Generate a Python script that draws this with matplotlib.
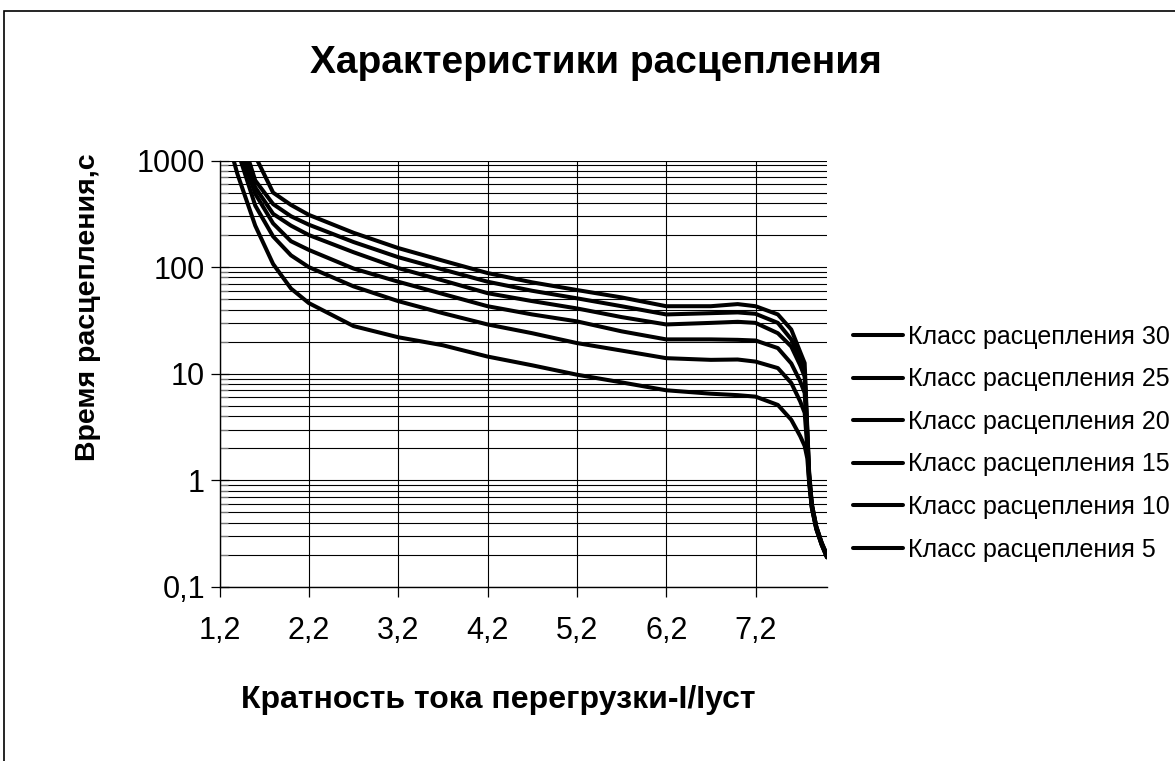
import matplotlib.pyplot as plt
from matplotlib.patches import Rectangle
from matplotlib.ticker import LogLocator, NullFormatter

plt.rcParams['font.family'] = ['Liberation Sans', 'DejaVu Sans']

# current multiple I/Iset
x = [1.2, 1.4, 1.6, 1.8, 2.0, 2.2, 2.7, 3.2, 3.7, 4.2, 4.7, 5.2, 5.7, 6.2, 6.7,
     7.0, 7.2, 7.45, 7.6, 7.7, 7.75, 7.78, 7.8, 7.83, 7.88, 7.94, 8.0]

# trip time, s
class_5 = [3000, 750, 245, 107, 63, 46, 28, 22, 18.5, 14.5, 12, 9.8, 8.3, 7.0, 6.5,
           6.3, 6.1, 5.1, 3.7, 2.6, 2.1, 1.6, 0.95, 0.55, 0.35, 0.25, 0.19]
class_10 = [5000, 1250, 378, 194, 129, 100, 66, 48, 37, 29, 24, 19.4, 16.5, 14.0, 13.5,
            13.6, 13.0, 11.3, 8.2, 5.5, 4.3, 2.0, 1.0, 0.56, 0.35, 0.25, 0.19]
class_15 = [6000, 1500, 488, 257, 175, 145, 97, 73, 56, 43, 36, 31, 25, 21, 21,
            20.8, 20.5, 17.4, 12.5, 8.5, 6.6, 2.3, 1.05, 0.57, 0.36, 0.25, 0.19]
class_20 = [7000, 1800, 560, 316, 245, 200, 138, 98, 75, 57, 48, 41, 34, 29, 30,
            30.7, 30, 24, 18, 12, 9.4, 2.6, 1.1, 0.58, 0.36, 0.26, 0.19]
class_25 = [8000, 2200, 650, 390, 300, 250, 172, 124, 95, 73, 60, 51, 43, 36, 37,
            37.6, 36.5, 30, 21, 14, 10.5, 2.8, 1.15, 0.6, 0.37, 0.26, 0.2]
class_30 = [9000, 2600, 1100, 500, 383, 309, 210, 151, 115, 88, 72, 61, 52, 43, 43,
            45, 43, 36, 26, 16, 12.6, 3.0, 1.2, 0.6, 0.37, 0.26, 0.2]

series = [class_30, class_25, class_20, class_15, class_10, class_5]
labels = ['Класс расцепления 30', 'Класс расцепления 25', 'Класс расцепления 20',
          'Класс расцепления 15', 'Класс расцепления 10', 'Класс расцепления 5']

xticks = [1.2, 2.2, 3.2, 4.2, 5.2, 6.2, 7.2]
xtick_labels = ['1,2', '2,2', '3,2', '4,2', '5,2', '6,2', '7,2']
yticks = [0.1, 1, 10, 100, 1000]
ytick_labels = ['0,1', '1', '10', '100', '1000']

W, H = 1175, 761
fig = plt.figure(figsize=(W / 100, H / 100), dpi=100)
ax = fig.add_axes([219.5 / W, 1 - 587 / H, (827 - 219.5) / W, (587 - 160.5) / H])

handles = []
for vals, lab in zip(series, labels):
    ln, = ax.plot(x, vals, color='black', lw=2.9, solid_joinstyle='round',
                  solid_capstyle='round', label=lab, zorder=3)
    handles.append(ln)

ax.set_yscale('log')
ax.set_ylim(0.1, 1000)
ax.set_xlim(1.2, 8.0)
ax.set_xticks(xticks)
ax.set_xticklabels(xtick_labels, fontsize=22)
ax.set_yticks(yticks)
ax.set_yticklabels(ytick_labels, fontsize=22)
ax.yaxis.set_minor_locator(LogLocator(base=10, subs=range(2, 10)))
ax.yaxis.set_minor_formatter(NullFormatter())

ax.grid(True, which='major', axis='both', color='black', lw=0.8)
ax.grid(True, which='minor', axis='y', color='black', lw=0.8)
ax.tick_params(axis='y', which='major', direction='inout', length=13, width=0.9, pad=4)
ax.tick_params(axis='y', which='minor', direction='in', length=6, width=0.9, color='#777777')
ax.tick_params(axis='x', which='major', direction='out', length=7, width=0.9, pad=14)

for s in ['top', 'right']:
    ax.spines[s].set_visible(False)
ax.spines['left'].set_linewidth(1.0)
ax.spines['bottom'].set_linewidth(1.0)

fig.text(596 / W, 1 - 63 / H, 'Характеристики расцепления', fontsize=28,
         fontweight='bold', ha='center', va='center')
fig.text(498 / W, 1 - 700 / H, 'Кратность тока перегрузки-I/Iуст', fontsize=23,
         fontweight='bold', ha='center', va='center')
fig.text(88 / W, 1 - 307 / H, 'Время расцепления,с', fontsize=20.5,
         fontweight='bold', ha='center', va='center', rotation=90)

ax.legend(handles=handles, loc='upper left', bbox_to_anchor=(853 / W, 1 - 325 / H),
          bbox_transform=fig.transFigure, frameon=False, fontsize=18,
          handlelength=2.0, handletextpad=0.2, labelspacing=0.74, borderaxespad=0,
          borderpad=0)

fig.add_artist(Rectangle((3.5 / W, -0.1), 1.2, 1 - 10.5 / H + 0.1,
                         transform=fig.transFigure, fill=False, edgecolor='black', lw=1.2))

fig.savefig('out.png', dpi=100)
